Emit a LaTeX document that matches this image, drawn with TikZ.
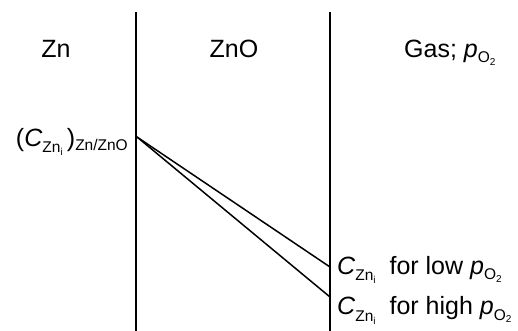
\documentclass[tikz,border=0pt]{standalone}
\usepackage{fontspec}
\setmainfont{Liberation Sans}
\newcommand\mainsz{\fontsize{25}{27}\selectfont}
\newcommand\subsz{\fontsize{15.5}{16}\selectfont}
\newcommand\subsubsz{\fontsize{10}{11}\selectfont}
\newcommand\Zni{\raisebox{-6pt}{\subsz Zn\raisebox{-3pt}{\subsubsz i}}}
\newcommand\Otwo{\raisebox{-5pt}{\subsz O\raisebox{-3pt}{\subsubsz 2}}}
\newcommand\Cz{\textit{C}\Zni}
\newcommand\pO{\textit{p}\Otwo}
\tikzset{
  wall/.style={line width=1.5pt, black},
  prof/.style={line width=1.5pt, black},
  lab/.style={inner sep=0pt, font=\mainsz}
}
\begin{document}
\begin{tikzpicture}[x=1pt,y=1pt]
\useasboundingbox[fill=white] (0,0) rectangle (518,331);
\coordinate (L1) at (136,319);
\coordinate (L2) at (136,0);
\coordinate (R1) at (330,319);
\coordinate (R2) at (330,0);
\coordinate (S) at (137,194);
\coordinate (E1) at (330,64);
\coordinate (E2) at (330,34);
\draw[wall] (L1) -- (L2);
\draw[wall] (R1) -- (R2);
\draw[prof] (S) -- (E1);
\draw[prof] (S) -- (E2);
\node[lab, anchor=base] (zn) at (56,273) {Zn};
\node[lab, anchor=base] (zno) at (234,273) {ZnO};
\node[lab, anchor=base west] (gas) at (404,273) {Gas; \pO};
\node[lab, anchor=base east] (cint) at (128,184) {(\Cz\,)\raisebox{-4pt}{\subsz Zn/ZnO}};
\node[lab, anchor=base west] (low) at (337,56) {\Cz\ \ for low \pO};
\node[lab, anchor=base west] (high) at (337,16) {\Cz\ \ for high \pO};
\end{tikzpicture}
\end{document}
